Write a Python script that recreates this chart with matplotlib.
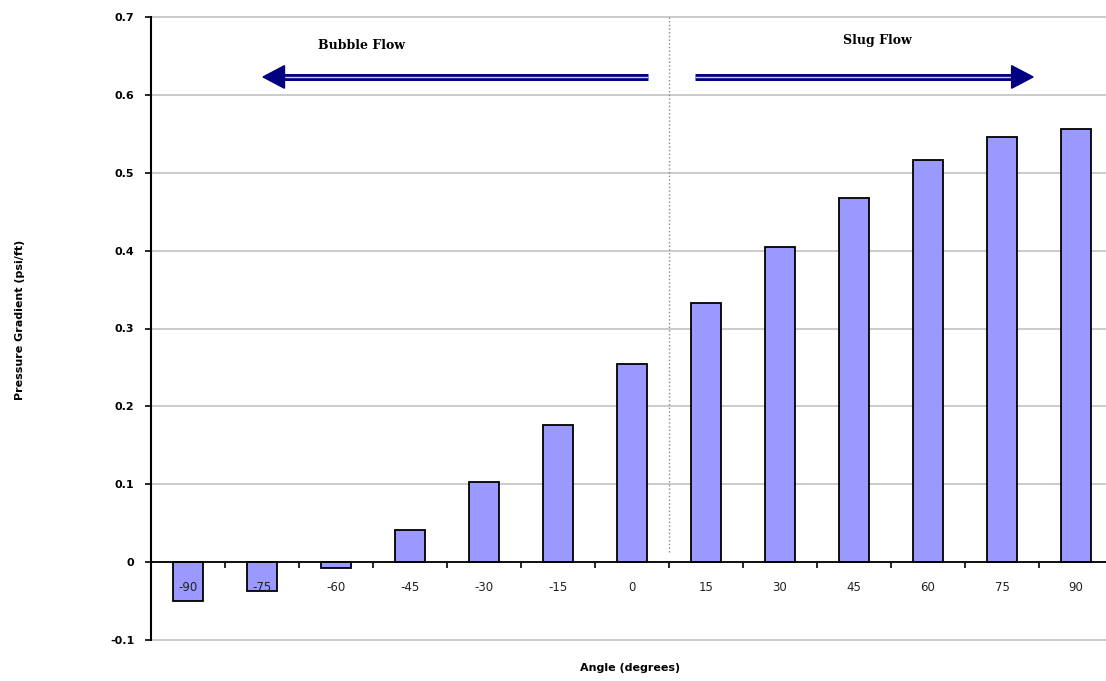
import matplotlib.pyplot as plt
import numpy as np

# inclination angles and the pressure gradient at each one
angles = [-90, -75, -60, -45, -30, -15, 0, 15, 30, 45, 60, 75, 90]
gradient = [-0.050, -0.037, -0.008, 0.041, 0.103, 0.176, 0.254,
            0.333, 0.405, 0.467, 0.517, 0.546, 0.556]
y_ticks = [-0.1, 0, 0.1, 0.2, 0.3, 0.4, 0.5, 0.6, 0.7]

navy = '#000080'
bar_color = '#9999ff'

fig = plt.figure(figsize=(11.06, 6.81), dpi=100)
# plot area runs slightly past the right edge of the figure
ax = fig.add_axes([151 / 1106, 41 / 681, 962 / 1106, 623 / 681])

x = np.arange(len(angles))
ax.bar(x, gradient, width=0.4, color=bar_color, edgecolor='black',
       linewidth=1.3, zorder=3)

ax.set_xlim(-0.5, len(angles) - 0.5)
ax.set_ylim(-0.1, 0.7)

# horizontal grid
ax.set_yticks(y_ticks)
ax.set_yticklabels(['-0.1', '0', '0.1', '0.2', '0.3', '0.4', '0.5', '0.6', '0.7'],
                   fontsize=8, fontweight='bold')
ax.yaxis.grid(True, color='#bdbdbd', linewidth=1.1, zorder=0)
for gl in ax.get_ygridlines():
    gl.set_clip_on(False)
ax.tick_params(axis='y', length=4, width=1.2, pad=8)

# category axis sits on the zero line
ax.spines['bottom'].set_position(('data', 0))
ax.spines['bottom'].set_linewidth(1.3)
ax.spines['bottom'].set_zorder(4)
ax.spines['left'].set_linewidth(1.5)
ax.spines['top'].set_visible(False)
ax.spines['right'].set_visible(False)
ax.set_xticks(x)
ax.set_xticklabels([])
ax.set_xticks(np.arange(-0.5, len(angles)), minor=True)
ax.tick_params(axis='x', which='major', length=0)
ax.tick_params(axis='x', which='minor', length=4, width=1.2, direction='out')

# angle labels drawn on top of the bars
for xi, a in zip(x, angles):
    ax.annotate(str(a), xy=(xi, 0), xytext=(0, -13.5), textcoords='offset points',
                ha='center', va='top', fontsize=8.5, color='#222222', zorder=10)

# boundary between the two flow regimes
ax.vlines(6.5, 0.013, 0.7, colors='#888888', linestyles=':', linewidth=1, zorder=2)


def double_arrow(x_tail, x_tip, y):
    head_len = 0.29
    head_h = 0.0145
    d = np.sign(x_tip - x_tail)
    base = x_tip - d * head_len
    ax.plot([x_tail, base], [y, y], color=navy, linewidth=5, solid_capstyle='butt', zorder=5)
    ax.plot([x_tail, base], [y, y], color='#c8c8f0', linewidth=1, solid_capstyle='butt', zorder=6)
    ax.fill([x_tip, base, base], [y, y + head_h, y - head_h], color=navy, zorder=7)


double_arrow(6.216, 1.014, 0.623)
double_arrow(6.851, 11.42, 0.623)

ax.text(2.35, 0.664, 'Bubble Flow', ha='center', va='center', fontsize=9,
        fontweight='bold', family='DejaVu Serif')
ax.text(9.31, 0.670, 'Slug Flow', ha='center', va='center', fontsize=9,
        fontweight='bold', family='DejaVu Serif')

fig.text(630 / 1106, 1 - 668 / 681, 'Angle (degrees)', ha='center', va='center',
         fontsize=8, fontweight='bold')
fig.text(20 / 1106, 1 - 320 / 681, 'Pressure Gradient (psi/ft)', ha='center', va='center',
         rotation=90, fontsize=8, fontweight='bold')

fig.savefig('out.png', dpi=100)
